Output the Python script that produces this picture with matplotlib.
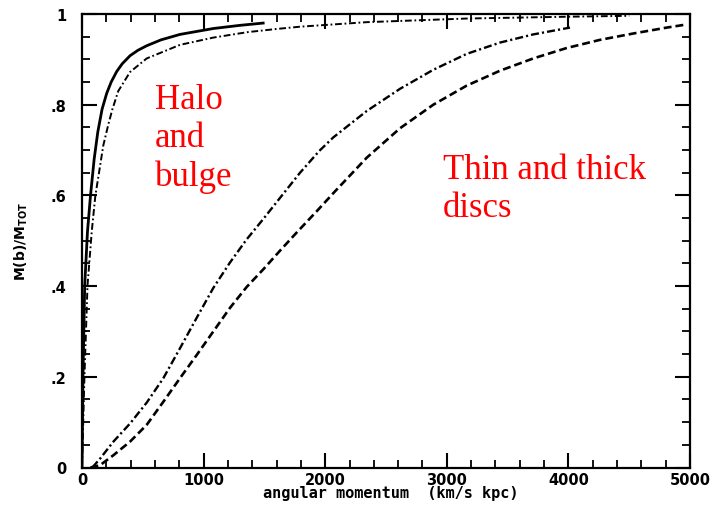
import numpy as np
import matplotlib
matplotlib.use("Agg")
from matplotlib import pyplot as plt
from matplotlib.ticker import MultipleLocator, FixedFormatter, FixedLocator

# cumulative mass fraction M(<j)/M_tot vs specific angular momentum j (km/s kpc)
halo_j = [0, 8, 22, 45, 70, 100, 130, 165, 203, 240, 285, 330, 395, 460, 532,
          650, 806, 1080, 1300, 1490]
halo_m = [0, 0.2, 0.4, 0.52, 0.6, 0.68, 0.74, 0.79, 0.825, 0.85, 0.873, 0.89,
          0.908, 0.92, 0.93, 0.943, 0.955, 0.968, 0.975, 0.98]

bulge_j = [0, 20, 45, 80, 110, 134, 175, 217, 250, 298, 395, 532, 806, 1080,
           1361, 1600, 1793, 2341, 3163, 3986, 4500]
bulge_m = [0, 0.2, 0.4, 0.52, 0.6, 0.64, 0.71, 0.757, 0.79, 0.83, 0.872, 0.902,
           0.932, 0.948, 0.96, 0.967, 0.972, 0.982, 0.99, 0.994, 0.996]

thin_j = [85, 150, 258, 395, 532, 669, 806, 943, 1080, 1217, 1354, 1491, 1615,
          1793, 1951, 2067, 2341, 2615, 2889, 3163, 3438, 3711, 4013]
thin_m = [0, 0.02, 0.057, 0.097, 0.143, 0.197, 0.263, 0.33, 0.396, 0.452, 0.503,
          0.548, 0.59, 0.65, 0.698, 0.728, 0.786, 0.835, 0.877, 0.912, 0.937,
          0.955, 0.97]

thick_j = [70, 148, 258, 395, 532, 669, 806, 943, 1080, 1217, 1354, 1491, 1628,
           1765, 1930, 2067, 2341, 2615, 2889, 3163, 3438, 3711, 3986, 4260,
           4534, 4808, 4950]
thick_m = [0, 0.005, 0.027, 0.057, 0.094, 0.145, 0.197, 0.248, 0.30, 0.352,
           0.398, 0.437, 0.478, 0.518, 0.565, 0.605, 0.683, 0.748, 0.8, 0.842,
           0.875, 0.902, 0.925, 0.943, 0.957, 0.97, 0.976]

x_ticks = [0, 1000, 2000, 3000, 4000, 5000]
x_labels = ["0", "1000", "2000", "3000", "4000", "5000"]
y_ticks = [0, 0.2, 0.4, 0.6, 0.8, 1.0]
y_labels = ["0", ".2", ".4", ".6", ".8", "1"]

fig = plt.figure(figsize=(7.1, 5.06), dpi=100)
ax = fig.add_axes([82 / 710, 1 - 468.5 / 506, 608 / 710, 453.5 / 506])

ax.plot(halo_j, halo_m, color="black", lw=2.0, ls="-")
ax.plot(bulge_j, bulge_m, color="black", lw=1.4, ls=(0, (3.5, 1.4, 0.9, 1.4)))
ax.plot(thin_j, thin_m, color="black", lw=1.7, ls=(0, (3.4, 1.3, 0.9, 1.3)))
ax.plot(thick_j, thick_m, color="black", lw=1.9, ls=(0, (3.0, 1.5)))

ax.set_xlim(0, 5000)
ax.set_ylim(0, 1)

ax.xaxis.set_major_locator(FixedLocator(x_ticks))
ax.xaxis.set_major_formatter(FixedFormatter(x_labels))
ax.xaxis.set_minor_locator(MultipleLocator(200))
ax.yaxis.set_major_locator(FixedLocator(y_ticks))
ax.yaxis.set_major_formatter(FixedFormatter(y_labels))
ax.yaxis.set_minor_locator(MultipleLocator(0.05))

ax.tick_params(which="both", direction="in", top=True, right=True, color="black")
ax.tick_params(which="major", length=11, width=1.5)
ax.tick_params(which="minor", length=5.5, width=1.3)
ax.tick_params(axis="x", which="major", pad=3)
ax.tick_params(axis="y", which="major", pad=11)

for spine in ax.spines.values():
    spine.set_linewidth(1.6)

for lab in ax.get_xticklabels() + ax.get_yticklabels():
    lab.set_fontfamily("DejaVu Sans")
    lab.set_fontweight("bold")
    lab.set_fontsize(10.5)

ax.set_xlabel("angular momentum  (km/s kpc)", family="DejaVu Sans Mono",
              fontweight="bold", fontsize=11, va="baseline")
ax.xaxis.set_label_coords(0.508, -0.066)
ax.set_ylabel(r"$\mathbf{M(b)/M_{TOT}}$", fontsize=10)
ax.yaxis.set_label_coords(-0.086, 0.5)

# component labels
ax.text(600, 0.847, "Halo\nand\nbulge", color="red", family="Liberation Serif",
        fontsize=25, va="top", ha="left", linespacing=1.2)
ax.text(2965, 0.693, "Thin and thick\ndiscs", color="red", family="Liberation Serif",
        fontsize=25, va="top", ha="left", linespacing=1.2)

fig.savefig("out.png", dpi=100)
